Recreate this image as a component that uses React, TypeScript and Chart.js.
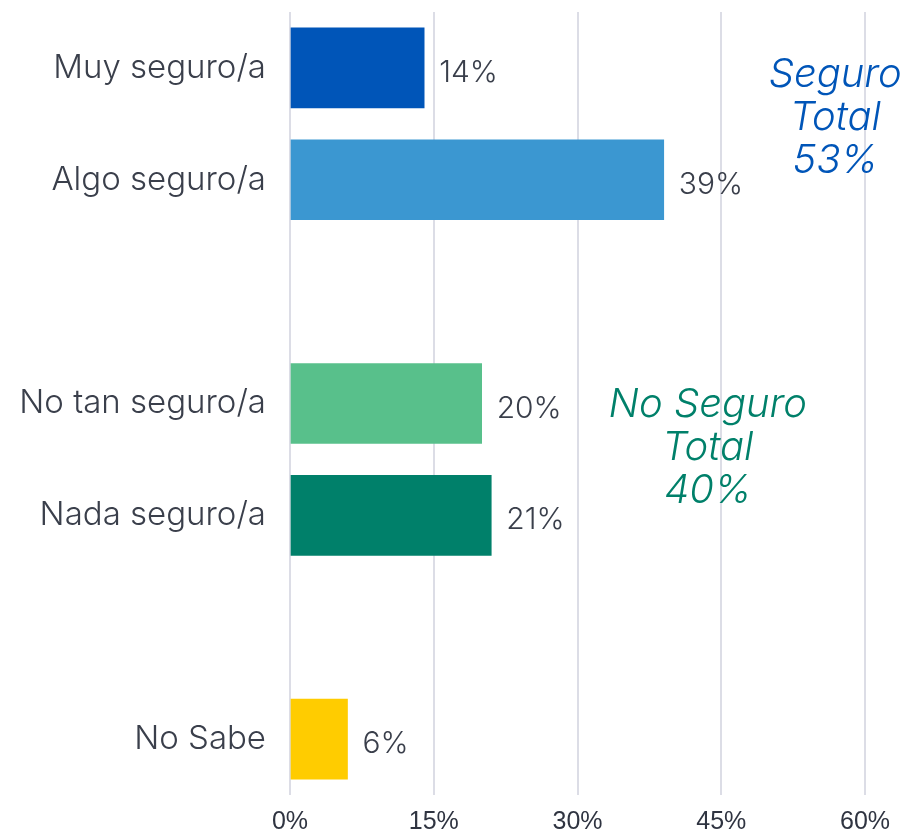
import React, { useEffect, useRef } from "react";
import { Chart, registerables } from "chart.js";

Chart.register(...registerables);

const categories = ["Muy seguro/a", "Algo seguro/a", "", "No tan seguro/a", "Nada seguro/a", "", "No Sabe"];
const values: (number | null)[] = [14, 39, null, 20, 21, null, 6];
const barColors = ["#0055b8", "#3b97d1", "#ffffff", "#58c08b", "#00806a", "#ffffff", "#ffcc00"];
const xTicks = [0, 15, 30, 45, 60];
const seguroLines = ["Seguro", "Total", "53%"];
const noSeguroLines = ["No Seguro", "Total", "40%"];

const LABEL_FONT = "Inter";

const overlayPlugin = {
  id: "overlay",
  afterDatasetsDraw(chart: any) {
    const { ctx, scales } = chart;
    const xs = scales.x;
    const ys = scales.y;
    ctx.save();
    // value labels
    ctx.font = `300 30px ${LABEL_FONT}`;
    ctx.fillStyle = "#3a3f4b";
    ctx.textAlign = "left";
    ctx.textBaseline = "middle";
    values.forEach((v, i) => {
      if (v == null) return;
      const x = xs.getPixelForValue(v) + 15;
      const y = ys.getPixelForValue(i) + 5;
      ctx.fillText(`${v}%`, x, y);
    });
    // group annotations
    ctx.font = `italic 300 40px ${LABEL_FONT}`;
    ctx.textAlign = "center";
    ctx.fillStyle = "#0055b8";
    seguroLines.forEach((t, k) => {
      ctx.fillText(t, xs.getPixelForValue(56.9), ys.getPixelForValue(0.06) + k * 43);
    });
    ctx.fillStyle = "#00806a";
    noSeguroLines.forEach((t, k) => {
      ctx.fillText(t, xs.getPixelForValue(43.6), ys.getPixelForValue(3.01) + k * 43);
    });
    ctx.restore();
  },
};

export default function App() {
  const ref = useRef<HTMLCanvasElement>(null);
  useEffect(() => {
    if (!ref.current) return;
    const chart = new Chart(ref.current, {
      type: "bar",
      data: {
        labels: categories,
        datasets: [
          {
            data: values as any,
            backgroundColor: barColors,
            barThickness: 80,
          },
        ],
      },
      options: {
        indexAxis: "y",
        animation: false,
        responsive: true,
        maintainAspectRatio: false,
        layout: { padding: { top: 12, right: 44, left: 0, bottom: 0 } },
        plugins: { legend: { display: false }, tooltip: { enabled: false } },
        scales: {
          x: {
            min: 0,
            max: 60,
            afterBuildTicks: (s: any) => {
              s.ticks = xTicks.map((v) => ({ value: v }));
            },
            afterFit: (s: any) => {
              s.height = 44;
            },
            grid: { color: "#dcdde6", lineWidth: 2, drawTicks: false },
            border: { display: false },
            ticks: {
              padding: 12,
              color: "#2f3441",
              font: { family: "Liberation Sans", size: 25 },
              callback: (v: any) => `${v}%`,
            },
          },
          y: {
            afterFit: (s: any) => {
              s.width = 290;
              s.paddingTop = 0;
              s.paddingBottom = 0;
            },
            grid: { display: false, drawTicks: false },
            border: { display: false },
            ticks: {
              padding: 24,
              color: "#3a3f4b",
              font: { family: LABEL_FONT, size: 33, weight: "300" as any },
            },
          },
        },
      },
      plugins: [overlayPlugin],
    });
    return () => chart.destroy();
  }, []);
  return (
    <div style={{ position: "fixed", left: 0, top: 0, width: 909, height: 839 }}>
      <canvas ref={ref} />
    </div>
  );
}
